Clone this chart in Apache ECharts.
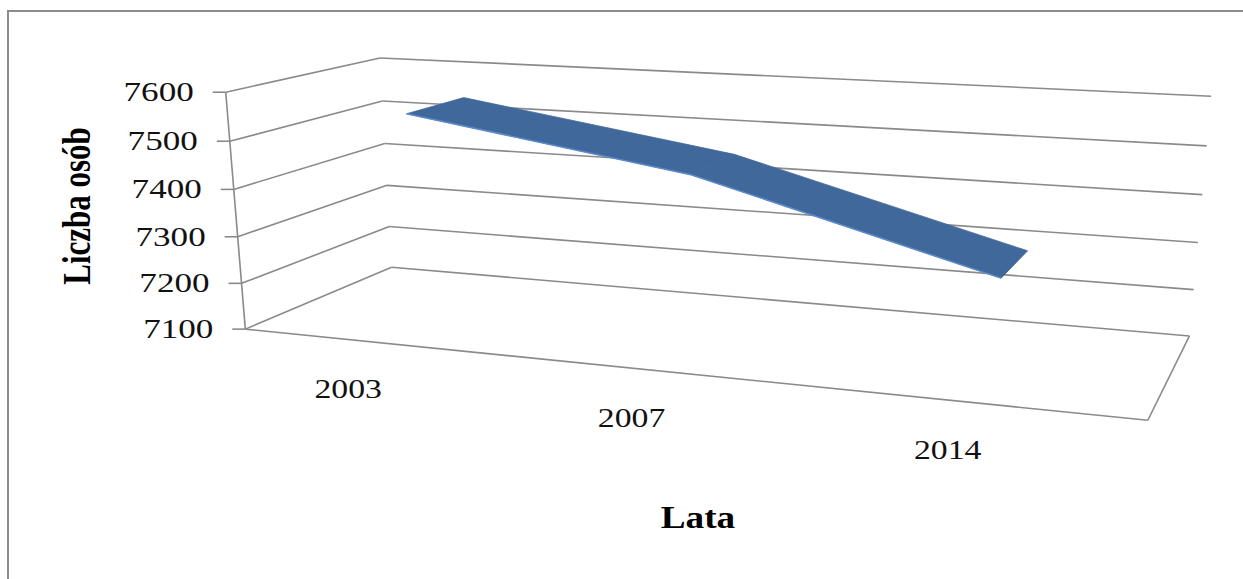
<!DOCTYPE html>
<html><head><meta charset="utf-8">
<script src="https://cdn.jsdelivr.net/npm/echarts@6/dist/echarts.min.js"></script>
<style>html,body{margin:0;padding:0;background:#fff}#c{width:1243px;height:579px}</style>
</head><body><div id="c"></div>
<script>
// ---- data ----
const categories = ['2003', '2007', '2014'];
const values = [7548, 7459, 7299];
const yTicks = [7100, 7200, 7300, 7400, 7500, 7600];
const yName = 'Liczba osób';
const xName = 'Lata';

// ---- layout: perspective box fitted from anchor points [X, Y, Z, px, py] ----
const anchors = [
  [0,1,1,380,58],[0,0.8,1,381.7,100.7],[0,0.6,1,385,143.3],[0,0.4,1,386.7,185],[0,0.2,1,390,227.7],[0,0,1,391.7,266.7],
  [0,1,0,226,92.3],[0,0.8,0,230,141.7],[0,0.6,0,233.8,189.3],[0,0.4,0,237.6,236.7],[0,0.2,0,241.3,283.3],[0,0,0,245,329],
  [1,1,1,1211,96],[1,0.8,1,1207,146],[1,0.6,1,1202,194.3],[1,0.4,1,1198,242.7],[1,0.2,1,1194,290],[1,0,1,1189,336],
  [1,0,0,1148,420]
];
const Z_FRONT = 0.28, Z_BACK = 0.69;
const FONT = '"Liberation Serif", "Times New Roman", serif';
const GRID_COLOR = '#8a8a8a';

function fitCamera(pts) {
  const su = 500, cu = 600, cv = 250;
  const n = 11;
  const M = [];
  for (let i = 0; i < n; i++) M.push(new Array(n + 1).fill(0));
  const add = (row, rhs) => {
    for (let i = 0; i < n; i++) {
      for (let j = 0; j < n; j++) M[i][j] += row[i] * row[j];
      M[i][n] += row[i] * rhs;
    }
  };
  for (const [X, Y, Z, u0, v0] of pts) {
    const u = (u0 - cu) / su, v = (v0 - cv) / su;
    add([X, Y, Z, 1, 0, 0, 0, 0, -u * X, -u * Y, -u * Z], u);
    add([0, 0, 0, 0, X, Y, Z, 1, -v * X, -v * Y, -v * Z], v);
  }
  for (let c = 0; c < n; c++) {
    let p = c;
    for (let r = c + 1; r < n; r++) if (Math.abs(M[r][c]) > Math.abs(M[p][c])) p = r;
    const t = M[c]; M[c] = M[p]; M[p] = t;
    for (let r = 0; r < n; r++) {
      if (r === c) continue;
      const f = M[r][c] / M[c][c];
      for (let k = c; k <= n; k++) M[r][k] -= f * M[c][k];
    }
  }
  const P = M.map((row, i) => row[n] / row[i]);
  return function (X, Y, Z) {
    const w = P[8] * X + P[9] * Y + P[10] * Z + 1;
    return [(P[0] * X + P[1] * Y + P[2] * Z + P[3]) / w * su + cu,
            (P[4] * X + P[5] * Y + P[6] * Z + P[7]) / w * su + cv];
  };
}
const proj = fitCamera(anchors);

function unit(params, pt) {
  const cs = params.coordSys;
  return [(pt[0] - cs.x) / cs.width, (cs.y + cs.height - pt[1]) / cs.height];
}
function line(a, b, extra) {
  return Object.assign({
    type: 'line', shape: { x1: a[0], y1: a[1], x2: b[0], y2: b[1] },
    style: { stroke: GRID_COLOR, lineWidth: 1.6 }, silent: true
  }, extra || {});
}

const chart = echarts.init(document.getElementById('c'), null, { renderer: 'svg' });
chart.setOption({
  animation: false,
  backgroundColor: '#fff',
  grid: { left: 100, right: 100, top: 100, bottom: 100 },
  xAxis: { type: 'category', data: categories, boundaryGap: true, show: false },
  yAxis: { type: 'value', min: 7100, max: 7600, interval: 100, show: false },
  graphic: [
    { type: 'rect', shape: { x: 8, y: 11, width: 1400, height: 800 },
      style: { fill: 'none', stroke: '#8c8c8c', lineWidth: 2 }, silent: true },
    { type: 'text', x: 77, y: 206, rotation: Math.PI / 2, scaleY: 1.3,
      style: { text: yName, font: 'bold 31px ' + FONT, fill: '#000', align: 'center', verticalAlign: 'middle' } },
    { type: 'text', x: 698, y: 517, scaleX: 1.2,
      style: { text: xName, font: 'bold 31px ' + FONT, fill: '#000', align: 'center', verticalAlign: 'middle' } }
  ],
  series: [
    { // walls, gridlines, value ticks and labels
      type: 'custom', z: 1, silent: true,
      data: yTicks.map(v => [0, v]),
      renderItem: function (params, api) {
        const Y = unit(params, api.coord([0, api.value(1)]))[1];
        const fl = proj(0, Y, 0), bl = proj(0, Y, 1), br = proj(1, Y, 1);
        const children = [
          line(bl, br), line(fl, bl),
          line([fl[0] - 13, fl[1]], fl),
          { type: 'text', x: fl[0] - 32, y: fl[1], scaleX: 1.3,
            style: { text: String(api.value(1)), font: '27px ' + FONT, fill: '#111',
                     align: 'right', verticalAlign: 'middle' } }
        ];
        if (params.dataIndex === 0) {
          children.push(line(proj(0, 0, 0), proj(0, 1, 0)));
          children.push(line(proj(0, 0, 0), proj(1, 0, 0)));
          children.push(line(proj(1, 0, 0), proj(1, 0, 1)));
        }
        return { type: 'group', children: children };
      }
    },
    { // category labels
      type: 'custom', z: 1, silent: true,
      data: categories.map((c, i) => [i, 7100]),
      renderItem: function (params, api) {
        const u = unit(params, api.coord([api.value(0), api.value(1)]));
        const p = proj(u[0], 0, 0);
        return { type: 'text', x: p[0] - 28, y: p[1] + 47, scaleX: 1.25,
          style: { text: categories[api.value(0)], font: '27px ' + FONT, fill: '#111',
                   align: 'center', verticalAlign: 'middle' } };
      }
    },
    { // ribbon (3D line)
      type: 'custom', z: 5, silent: true,
      data: values.slice(0, -1).map((v, i) => [i, v, i + 1, values[i + 1]]),
      encode: { x: [0, 2], y: [1, 3] },
      renderItem: function (params, api) {
        const a = unit(params, api.coord([api.value(0), api.value(1)]));
        const b = unit(params, api.coord([api.value(2), api.value(3)]));
        const fa = proj(a[0], a[1], Z_FRONT), fb = proj(b[0], b[1], Z_FRONT);
        const ba = proj(a[0], a[1], Z_BACK), bb = proj(b[0], b[1], Z_BACK);
        return { type: 'group', children: [
          { type: 'polygon', shape: { points: [fa, fb, bb, ba] },
            style: { fill: '#41689a', stroke: '#41689a', lineWidth: 0.8 } },
          { type: 'line', shape: { x1: fa[0], y1: fa[1], x2: fb[0], y2: fb[1] },
            style: { stroke: '#5b8bcc', lineWidth: 1.5 } }
        ] };
      }
    }
  ]
});
</script></body></html>
